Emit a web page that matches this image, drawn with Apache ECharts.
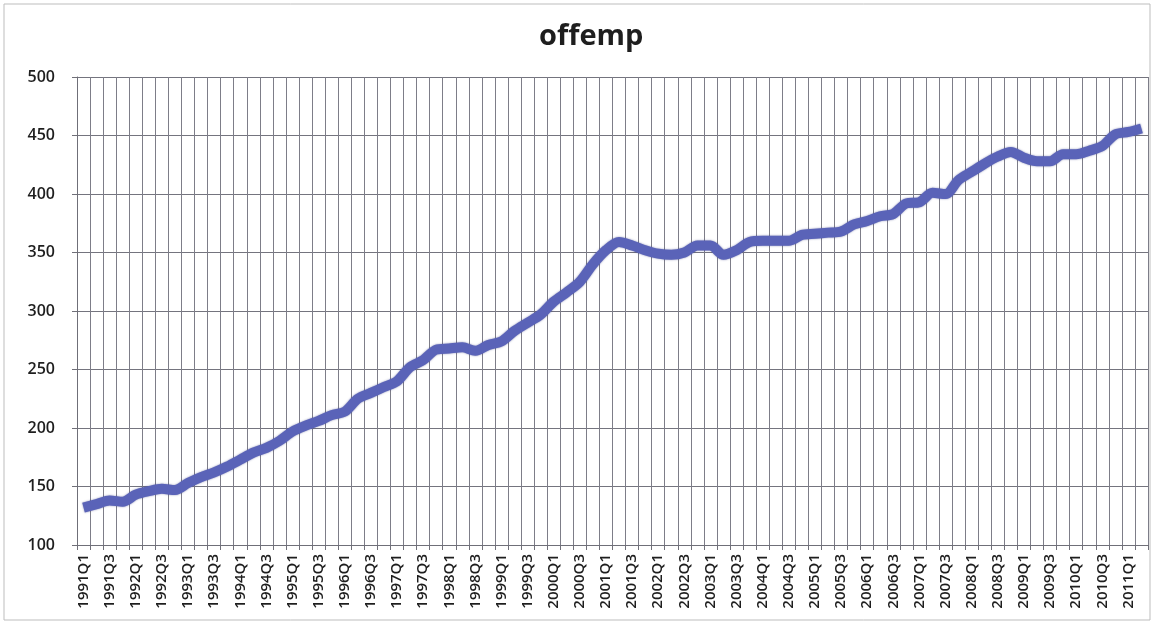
<!DOCTYPE html>
<html>
<head>
<meta charset="utf-8">
<title>offemp</title>
<script src="https://cdn.jsdelivr.net/npm/echarts@6/dist/echarts.min.js"></script>
<style>
  html, body { margin: 0; padding: 0; background: #fff; }
  #chart { width: 1155px; height: 625px; }
</style>
</head>
<body>
<div id="chart"></div>
<script>
// quarters 1991Q1 .. 2011Q2
var years = [];
for (var y = 1991; y <= 2011; y++) years.push(y);
var quarters = [];
years.forEach(function (yr) {
    for (var q = 1; q <= 4; q++) {
        if (yr === 2011 && q > 2) break;
        quarters.push(yr + 'Q' + q);
    }
});

var offemp = [
    132, 135, 138, 137,   // 1991
    143, 146, 148, 147,   // 1992
    153, 158, 162, 167,   // 1993
    173, 179, 183, 189,   // 1994
    197, 202, 206, 211,   // 1995
    214, 225, 230, 235,   // 1996
    240, 252, 258, 267,   // 1997
    268, 269, 266, 271,   // 1998
    274, 283, 290, 297,   // 1999
    308, 316, 325, 340,   // 2000
    352, 359, 356, 352,   // 2001
    349, 348, 350, 356,   // 2002
    356, 348, 352, 359,   // 2003
    360, 360, 360, 365,   // 2004
    366, 367, 368, 374,   // 2005
    377, 381, 383, 392,   // 2006
    393, 401, 400, 412,   // 2007
    419, 426, 432, 436,   // 2008
    431, 428, 428, 434,   // 2009
    434, 437, 441, 451,   // 2010
    453, 456              // 2011
];

var yTicks = [100, 150, 200, 250, 300, 350, 400, 450, 500];

var myChart = echarts.init(document.getElementById('chart'));

var option = {
    backgroundColor: '#fff',
    title: {
        text: 'offemp',
        left: 534,
        top: 17,
        textStyle: {
            fontFamily: 'Open Sans',
            fontSize: 29,
            fontWeight: 'bold',
            color: '#1e1e1e'
        }
    },
    graphic: [{
        type: 'rect',
        shape: { x: 4, y: 4, width: 1146, height: 616 },
        style: { fill: 'none', stroke: '#bdbdbd', lineWidth: 1 },
        silent: true
    }],
    grid: {
        left: 77,
        right: 7,
        top: 77,
        bottom: 80
    },
    xAxis: {
        type: 'category',
        data: quarters,
        boundaryGap: true,
        axisLine: { lineStyle: { color: '#6f6f78', width: 1 } },
        axisTick: { show: true, interval: 0, length: 5, lineStyle: { color: '#6f6f78' } },
        axisLabel: {
            interval: 1,
            rotate: 90,
            fontFamily: 'Open Sans',
            fontWeight: 600,
            fontSize: 15,
            color: '#1e1e1e',
            margin: 9
        },
        splitLine: {
            show: true,
            interval: 0,
            lineStyle: { color: '#7d7d88', width: 1 }
        }
    },
    yAxis: {
        type: 'value',
        min: yTicks[0],
        max: yTicks[yTicks.length - 1],
        interval: 50,
        axisLine: { show: true, lineStyle: { color: '#6f6f78' } },
        axisTick: { show: true, length: 5, lineStyle: { color: '#6f6f78' } },
        axisLabel: {
            fontFamily: 'Open Sans',
            fontWeight: 600,
            fontSize: 16,
            color: '#1e1e1e',
            margin: 22
        },
        splitLine: { lineStyle: { color: '#74747e', width: 1.2 } }
    },
    series: [{
        name: 'offemp',
        type: 'line',
        data: offemp,
        smooth: 0.3,
        showSymbol: false,
        symbol: 'none',
        lineStyle: {
            color: '#5a63b8',
            width: 10,
            shadowColor: 'rgba(40,45,120,0.55)',
            shadowBlur: 2
        }
    }]
};

myChart.setOption(option);
</script>
</body>
</html>
